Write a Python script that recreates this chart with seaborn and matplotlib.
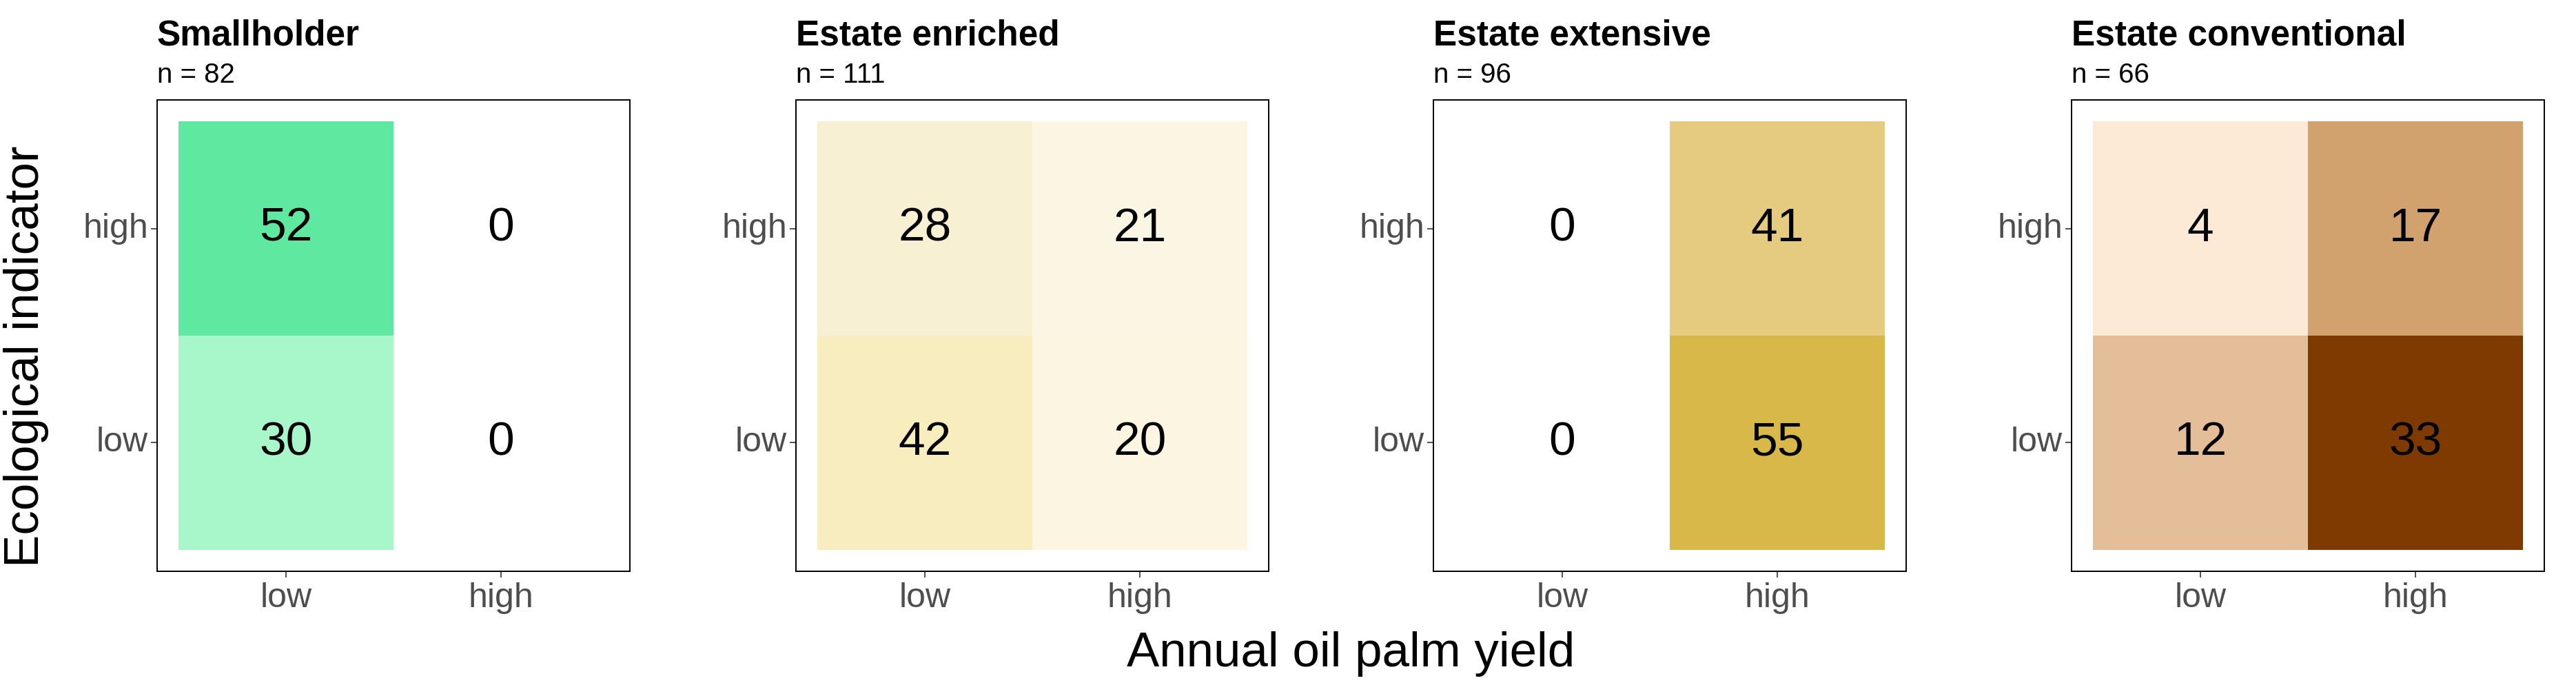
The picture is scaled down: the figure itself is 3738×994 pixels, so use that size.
import matplotlib
matplotlib.use("Agg")
import matplotlib.pyplot as plt
from matplotlib.colors import LinearSegmentedColormap
import seaborn as sns
import pandas as pd

# rows: ecological indicator, columns: annual oil palm yield
eco_levels = ["high", "low"]
yield_levels = ["low", "high"]

panel_titles = ["Smallholder", "Estate enriched", "Estate extensive", "Estate conventional"]
panel_n = [82, 111, 96, 66]

smallholder = [[52, 0], [30, 0]]
estate_enriched = [[28, 21], [42, 20]]
estate_extensive = [[0, 41], [0, 55]]
estate_conventional = [[4, 17], [12, 33]]
counts = [smallholder, estate_enriched, estate_extensive, estate_conventional]

# fill colour for each count, per panel (zero cells stay white)
fill_colors = [
    {30: "#A8F7CB", 52: "#5FE8A0"},
    {20: "#FBF5E2", 21: "#FBF6E3", 28: "#F8F0D3", 42: "#F7EDBE"},
    {41: "#E5CB7F", 55: "#D9B84A"},
    {4: "#FDEAD6", 12: "#E4BE99", 17: "#D1A26D", 33: "#7F3A02"},
]

sns.set_style("white")
plt.rcParams["font.family"] = ["Liberation Sans", "DejaVu Sans"]
plt.rcParams["text.color"] = "black"

W, H = 3738, 994
fig = plt.figure(figsize=(W / 100, H / 100), dpi=100)

lefts = [228, 1155, 2080, 3006]
pw, ph = 686, 684
top = 145

for i, (title, n, data, cols) in enumerate(zip(panel_titles, panel_n, counts, fill_colors)):
    ax = fig.add_axes([lefts[i] / W, (H - top - ph) / H, pw / W, ph / H])
    df = pd.DataFrame(data, index=eco_levels, columns=yield_levels)
    vmax = max(cols)
    stops = [(0.0, "white")] + [(v / vmax, c) for v, c in sorted(cols.items())]
    cmap = LinearSegmentedColormap.from_list(f"p{i}", stops)
    sns.heatmap(df, ax=ax, cmap=cmap, vmin=0, vmax=vmax, cbar=False,
                annot=True, fmt="d", linewidths=0,
                annot_kws={"color": "black", "fontsize": 50})
    ax.set_xlim(-0.1, 2.1)
    ax.set_ylim(2.1, -0.1)
    ax.set_xlabel("")
    ax.set_ylabel("")
    for s in ax.spines.values():
        s.set_visible(True)
        s.set_color("black")
        s.set_linewidth(1.4)
    ax.tick_params(axis="both", which="both", length=6.5, width=1.2,
                   color="#333333", labelsize=36, labelcolor="#4D4D4D",
                   left=True, bottom=True, pad=3)
    ax.tick_params(axis="x", pad=5)
    plt.setp(ax.get_yticklabels(), rotation=0)
    plt.setp(ax.get_xticklabels(), rotation=0)
    ax.text(0.0, 1 + (top - 65) / ph, title, transform=ax.transAxes,
            fontsize=37, fontweight="bold", ha="left", va="baseline")
    ax.text(0.0, 1 + (top - 120) / ph, f"n = {n}", transform=ax.transAxes,
            fontsize=29, ha="left", va="baseline")

fig.text(38 / W, 0.48, "Ecological indicator", rotation=90,
         fontsize=51, ha="center", va="center")
fig.text(1960 / W, (H - 967) / H, "Annual oil palm yield",
         fontsize=51, ha="center", va="baseline")

fig.savefig("out.png", dpi=100, facecolor="white")
